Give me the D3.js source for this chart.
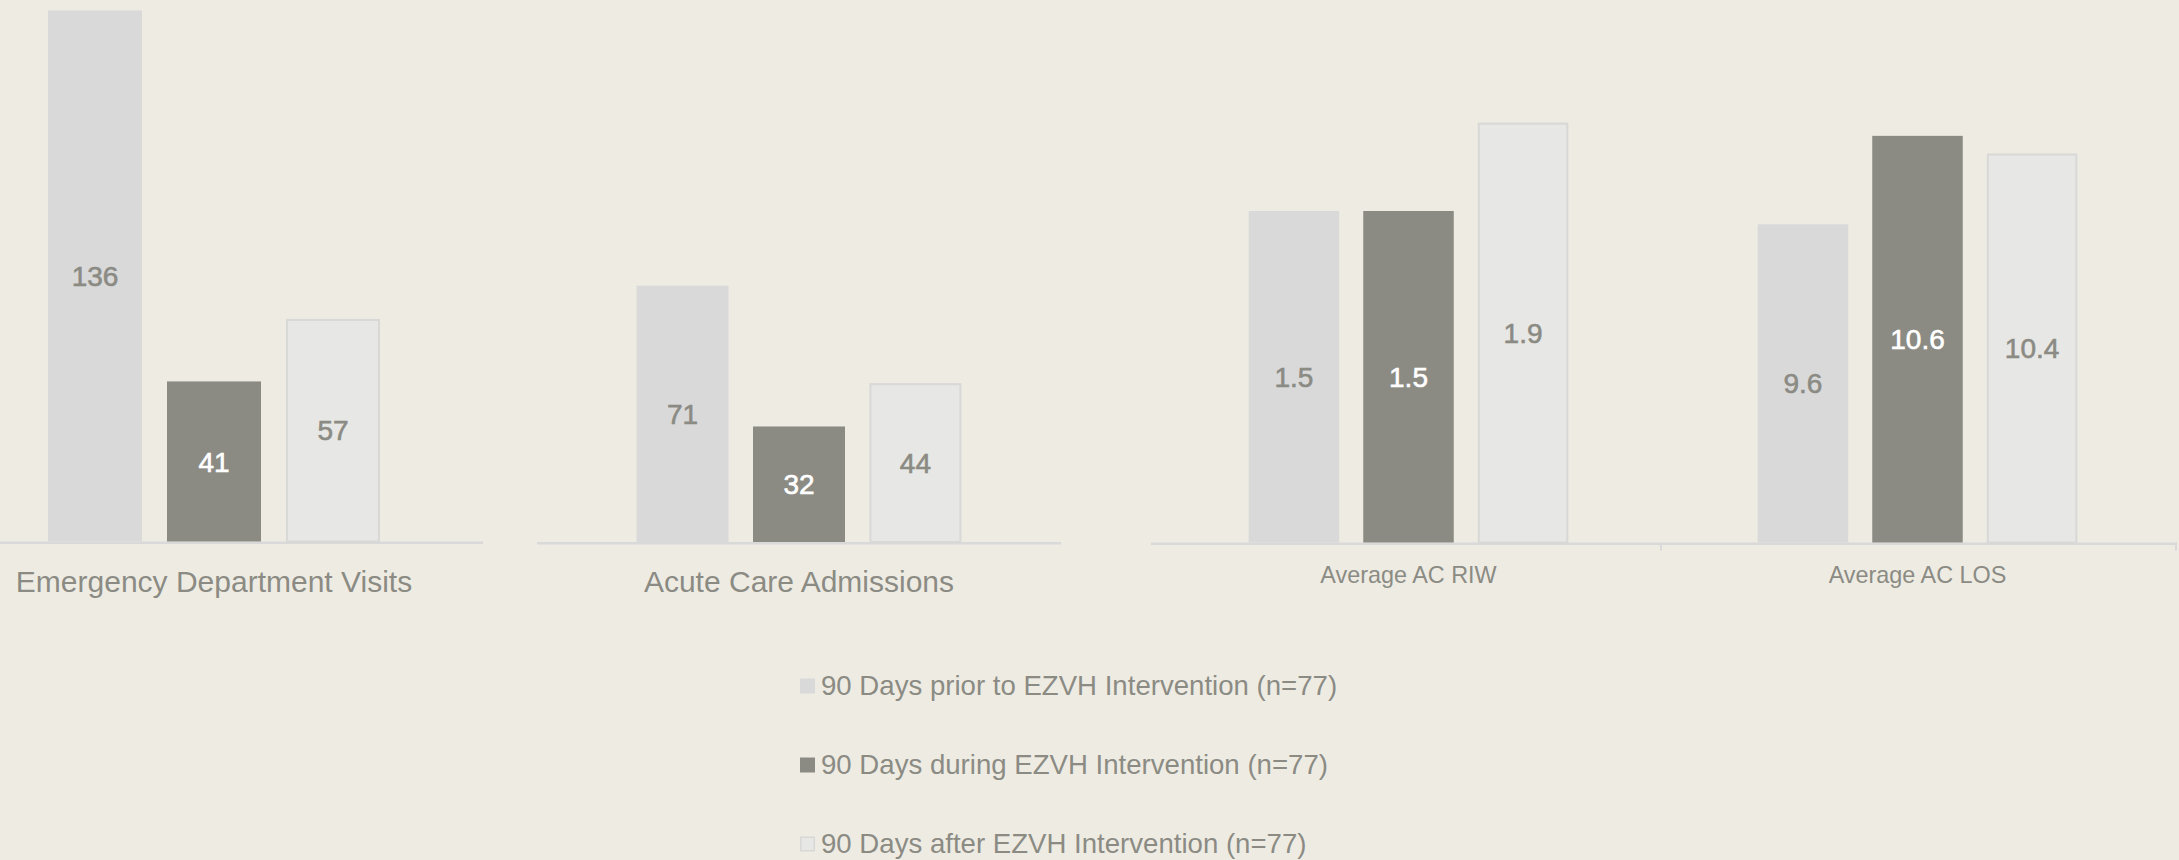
<!DOCTYPE html>
<html>
<head>
<meta charset="utf-8">
<script src="https://cdn.jsdelivr.net/npm/d3@7"></script>
<style>
  html, body { margin: 0; padding: 0; background: #eeebe3; }
  svg { display: block; }
  text { font-family: "Liberation Sans", Arial, sans-serif; }
</style>
</head>
<body>
<svg id="chart" width="2179" height="860"></svg>
<script>
// ---------- data ----------
const seriesNames = [
  "90 Days prior to EZVH Intervention (n=77)",
  "90 Days during EZVH Intervention (n=77)",
  "90 Days after EZVH Intervention (n=77)"
];
const categories = ["Emergency Department Visits", "Acute Care Admissions", "Average AC RIW", "Average AC LOS"];
const edVisits = [136, 41, 57];
const acuteAdmissions = [71, 32, 44];
const avgRIW = [1.5, 1.5, 1.9];
const avgLOS = [9.6, 10.6, 10.4];
const valueLabels = [
  ["136", "41", "57"],
  ["71", "32", "44"],
  ["1.5", "1.5", "1.9"],
  ["9.6", "10.6", "10.4"]
];

// ---------- styles ----------
const fills = ["#d9d9d9", "#8b8b84", "#e7e7e5"];
const strokes = ["none", "none", "#d8d8d6"];
const labelColors = ["#8b8b84", "#ffffff", "#8b8b84"];
const textGray = "#8b8b84";
const axisColor = "#d9d9d9";

const svg = d3.select("#chart");

// chart groups (layout)
const charts = [
  { cats: [categories[0]], values: [edVisits], labels: [valueLabels[0]],
    xRange: [-55, 483], axis: [0, 483], base: 541.5, yDomains: [[0, 140]], yTop: [-5.1],
    inner: 0.617, catFont: 30, catBaseline: 592, ticks: false },
  { cats: [categories[1]], values: [acuteAdmissions], labels: [valueLabels[1]],
    xRange: [537, 1061], axis: [537, 1061], base: 542, yDomains: [[0, 150]], yTop: [0.5],
    inner: 0.62, catFont: 30, catBaseline: 592, ticks: false },
  { cats: [categories[2], categories[3]], values: [avgRIW, avgLOS], labels: [valueLabels[2], valueLabels[3]],
    xRange: [1154, 2172], axis: [1151, 2177], base: 542.5, yDomains: [[0, 2], [6, 11]], yTop: [100.5, 100.5],
    inner: 0.628, catFont: 23.4, catBaseline: 583, ticks: true }
];

charts.forEach(ch => {
  const g = svg.append("g");
  const x0 = d3.scaleBand().domain(ch.cats).range(ch.xRange).padding(0);

  // axis line
  g.append("line")
    .attr("x1", ch.axis[0]).attr("x2", ch.axis[1])
    .attr("y1", ch.base + 1.2).attr("y2", ch.base + 1.2)
    .attr("stroke", axisColor).attr("stroke-width", 2.5);
  if (ch.ticks) {
    const tickXs = ch.cats.slice(1).map(c => x0(c) - 2).concat([ch.axis[1] - 1]);
    g.selectAll("line.tick").data(tickXs).join("line")
      .attr("class", "tick")
      .attr("x1", d => d).attr("x2", d => d)
      .attr("y1", ch.base).attr("y2", ch.base + 8)
      .attr("stroke", axisColor).attr("stroke-width", 2);
  }

  ch.cats.forEach((cat, ci) => {
    const y = d3.scaleLinear().domain(ch.yDomains[ci]).range([ch.base, ch.yTop[ci]]);
    const center = x0(cat) + x0.bandwidth() / 2;
    const span = x0.bandwidth() * ch.inner;
    const x1 = d3.scaleBand().domain(d3.range(seriesNames.length))
      .range([center - span / 2, center + span / 2]).paddingInner(0.21).paddingOuter(0);
    const vals = ch.values[ci];
    const y0 = ch.yDomains[ci][0];

    g.selectAll(null).data(vals).join("rect")
      .attr("x", (d, i) => x1(i) + (i === 2 ? 1 : 0))
      .attr("width", (d, i) => x1.bandwidth() - (i === 2 ? 2 : 0))
      .attr("y", (d, i) => y(d) + (i === 2 ? 1 : 0))
      .attr("height", (d, i) => y(y0) - y(d) - (i === 2 ? 1 : 0))
      .attr("fill", (d, i) => fills[i])
      .attr("stroke", (d, i) => strokes[i])
      .attr("stroke-width", 2);

    g.selectAll(null).data(vals).join("text")
      .attr("x", (d, i) => x1(i) + x1.bandwidth() / 2)
      .attr("y", d => (y(d) + y(y0)) / 2 + 0.36 * 28)
      .attr("text-anchor", "middle")
      .attr("font-size", 28)
      .attr("fill", (d, i) => labelColors[i])
      .attr("stroke", (d, i) => labelColors[i])
      .attr("stroke-width", 0.6)
      .text((d, i) => ch.labels[ci][i]);

    g.append("text")
      .attr("x", center)
      .attr("y", ch.catBaseline)
      .attr("text-anchor", "middle")
      .attr("font-size", ch.catFont)
      .attr("fill", textGray)
      .text(cat);
  });
});

// ---------- legend ----------
const legendY = d3.scalePoint().domain(d3.range(seriesNames.length)).range([685.5, 843.5]);
const leg = svg.append("g");
const items = leg.selectAll("g").data(seriesNames).join("g")
  .attr("transform", (d, i) => `translate(800, ${legendY(i)})`);
items.append("rect")
  .attr("x", (d, i) => i === 2 ? 0.75 : 0)
  .attr("y", (d, i) => -7 + (i === 2 ? 0.75 : 0))
  .attr("width", (d, i) => i === 2 ? 13.5 : 15)
  .attr("height", (d, i) => i === 2 ? 13.5 : 15)
  .attr("fill", (d, i) => fills[i])
  .attr("stroke", (d, i) => strokes[i])
  .attr("stroke-width", 1.5);
items.append("text")
  .attr("x", 21)
  .attr("y", 0.36 * 27.6)
  .attr("font-size", 27.6)
  .attr("fill", textGray)
  .text(d => d);
</script>
</body>
</html>
